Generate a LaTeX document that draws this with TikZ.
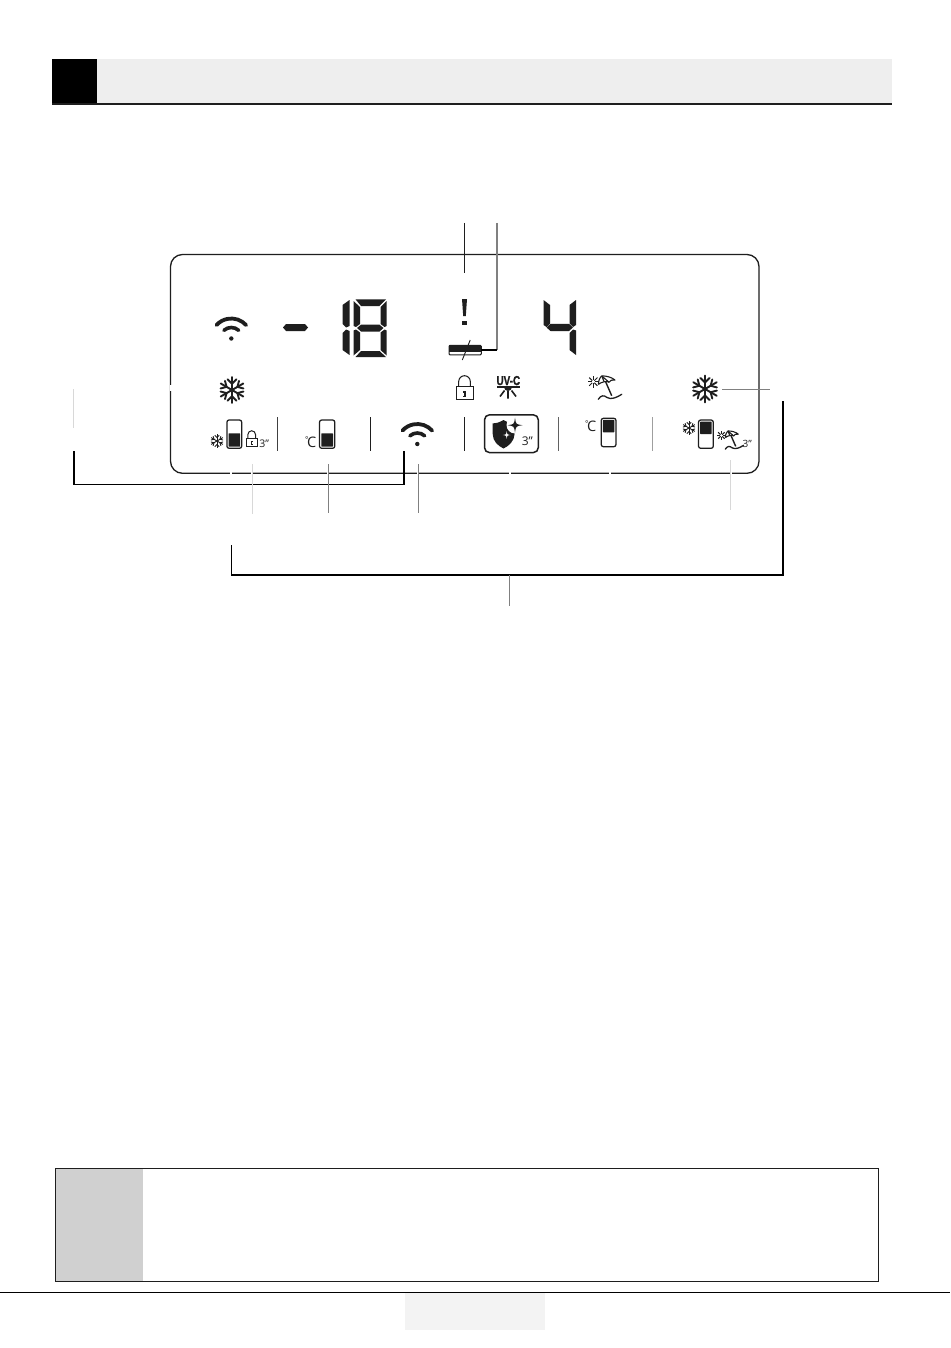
\documentclass[tikz,border=0pt]{standalone}
\usepackage{fontspec}
\setmainfont{Open Sans}
\newfontfamily\uvfont[FakeBold=1.5]{Liberation Sans Bold}
\definecolor{ink}{HTML}{1E1E1E}
\definecolor{headgray}{HTML}{EEEEEE}
\definecolor{notegray}{HTML}{D0D0D0}
\definecolor{pagegray}{HTML}{F3F3F3}
\definecolor{leadmid}{HTML}{808080}
\definecolor{leadlight}{HTML}{D8D8D8}
\tikzset{
  panelline/.style={draw=ink,line width=1.3pt},
  sepline/.style={line width=1pt},
  leadthin/.style={draw=#1,line width=.9pt},
  bracket/.style={draw=black,line width=1.8pt},
  notch/.style={draw=white,line width=2pt},
  segm/.style={fill=ink,draw=none},
  label3/.style={inner sep=0pt,text=ink},
  wifi/.pic={
    \fill[ink] (0,0) circle (2.2pt);
    \draw[ink,line width=3.8pt,line cap=round] (42:20pt) arc[start angle=42,end angle=138,radius=20pt];
    \draw[ink,line width=3.6pt,line cap=round] (48:11pt) arc[start angle=48,end angle=132,radius=11pt];
  },
  flake/.pic={
    \foreach \a in {30,90,150,210,270,330}{
      \begin{scope}[rotate=\a]
        \draw[ink,line width=1.9pt,line cap=round] (0pt,0pt)--(#1 pt,0pt);
        \draw[ink,line width=1.9pt,line cap=round] (#1*.48pt,0pt)--(#1*.82pt,#1*.34pt) (#1*.48pt,0pt)--(#1*.82pt,-#1*.34pt);
      \end{scope}
    }
  },
  tinyflake/.pic={
    \foreach \a in {30,90,150,210,270,330}{
      \begin{scope}[rotate=\a]
        \draw[ink,line width=.9pt] (0pt,0pt)--(#1 pt,0pt);
        \draw[ink,line width=.9pt] (#1*.5pt,0pt)--(#1*.85pt,#1*.32pt) (#1*.5pt,0pt)--(#1*.85pt,-#1*.32pt);
      \end{scope}
    }
  },
  padlock/.pic={
    \draw[ink,line width=1pt] (-8.5,6)rectangle(8.5,-6.8);
    \draw[ink,line width=1pt] (-5.8,-6.8)--(-5.8,-12) arc[start angle=180,end angle=0,radius=5.8pt]--(5.8,-6.8);
    \fill[ink] (-1,-1.8) rectangle (1,3.2);
    \fill[ink] (-1.8,-2.4) rectangle (1.8,-1);
    \fill[ink] (-1.8,2.4) rectangle (1.8,3.4);
  },
  umbrella/.pic={
    \draw[ink,line width=1.1pt,line join=round,fill=white] (-6.7,-2.5) .. controls (-6.5,-8) and (-4,-10.5) .. (-3.3,-11) .. controls (1,-11.5) and (7,-9.5) .. (10,-7) .. controls (7,-7.5) and (5,-6.5) .. (4,-4.8) .. controls (2,-6.5) and (-4,-5) .. (-6.7,-2.5);
    \draw[ink,line width=1.1pt] (-3.3,-11)--(-1,-5.5) (-3.3,-11)--(4,-4.8);
    \draw[ink,line width=1.4pt] (0.5,-5.5)--(6.7,8.7);
    \draw[ink,line width=1.3pt,line cap=round] (-6.7,12.3) .. controls (-4,8) and (-1,8) .. (2,10.5) .. controls (6,13) and (12,10.5) .. (16.7,7.3);
    \foreach \a in {0,45,...,315}{
      \draw[ink,line width=1pt] ([shift={(-11.7,-5.3)}]\a:1.5pt)--([shift={(-11.7,-5.3)}]\a:5.8pt);
    }
  },
  fourstar/.pic={
    \fill[#1] (0,-1) .. controls (.12,-.12) .. (1,0) .. controls (.12,.12) .. (0,1) .. controls (-.12,.12) .. (-1,0) .. controls (-.12,-.12) .. (0,-1) -- cycle;
  }
}
\newcommand{\batt}[8]{%
  \draw[ink,line width=1.25pt,rounded corners=2.2pt] (#1,#2) rectangle (#3,#4);
  \fill[ink,rounded corners=.5pt] (#5,#6) rectangle (#7,#8);
}
\newcommand{\degC}{\raisebox{5pt}{\fontsize{8}{8}\selectfont °}\kern-1.4pt\fontsize{14.5}{14.5}\selectfont C}
\begin{document}
\begin{tikzpicture}[x=1pt,y=-1pt]
\useasboundingbox (0,0) rectangle (950,1348);
\fill[white] (0,0) rectangle (950,1348);

% header
\fill[headgray] (97,59) rectangle (892,103);
\fill[black] (52,59) rectangle (97,103);
\draw[ink,line width=2pt] (52,104) -- (892,104);

% panel
\draw[panelline,rounded corners=12pt] (170.5,254.5) rectangle (759,473.3);
\foreach \x in {231,252,328,418,509.5,610,730.5}{
  \draw[notch] (\x,471.8) -- (\x,474.8);
}
\draw[notch] (170.5,385) -- (170.5,391);

% leader coordinates
\coordinate (t1a) at (464.5,223); \coordinate (t1b) at (464.5,273);
\coordinate (t2a) at (497,223); \coordinate (t2b) at (497,350); \coordinate (t2c) at (481,350);
\coordinate (sa) at (470.2,340); \coordinate (sb) at (462.3,360);
\coordinate (lf1) at (73.2,389); \coordinate (lf2) at (73.2,428);
\coordinate (br1) at (74,451); \coordinate (br2) at (74,484.5); \coordinate (br3) at (404,484.5); \coordinate (br4) at (404,451);
\coordinate (d1a) at (252,464); \coordinate (d1b) at (252,514);
\coordinate (d2a) at (328,464); \coordinate (d2b) at (328,513);
\coordinate (d3a) at (418,464); \coordinate (d3b) at (418,513);
\coordinate (d4a) at (730.5,460); \coordinate (d4b) at (730.5,510);
\coordinate (fl1) at (722,389); \coordinate (fl2) at (770,389);
\coordinate (lb1) at (231.5,545); \coordinate (lb2) at (231.5,575); \coordinate (lb3) at (783,575); \coordinate (lb4) at (783,401);
\coordinate (lb5) at (509.5,575); \coordinate (lb6) at (509.5,606);

% separators
\draw[sepline,ink!85] (277,417) -- (277,451);
\draw[sepline,ink] (370.5,417) -- (370.5,451);
\draw[sepline,ink] (464.5,417) -- (464.5,451);
\draw[sepline,ink!70] (558,417) -- (558,451);
\draw[sepline,gray!75] (652,417) -- (652,451);

% icons row 1
\pic at (231.3,338.5) {wifi};
\pic at (417.3,444) {wifi};
\pic at (232,390) {flake=13};
\pic at (705,389) {flake=13.5};

% dash
\fill[segm] (283,327.5) -- (286,324) -- (305,324) -- (308,327.5) -- (305,331) -- (286,331) -- cycle;

% digit 1
\fill[segm] (349.5,300) -- (349.5,326) -- (346,327.5) -- (342.5,324) -- (342.5,305) -- cycle;
\fill[segm] (349.5,355) -- (349.5,331) -- (346,329.5) -- (342.5,333) -- (342.5,350) -- cycle;
% digit 8
\fill[segm] (355.5,299.3) -- (386,299.3) -- (379.5,306) -- (361,306) -- cycle;
\fill[segm] (353.5,301) -- (360,307) -- (360,324) -- (356,327) -- (353.5,326) -- cycle;
\fill[segm] (386.7,301) -- (380.5,307) -- (380.5,324) -- (384.5,327) -- (386.7,326) -- cycle;
\fill[segm] (357,328) -- (361,324.7) -- (379.5,324.7) -- (383.5,328) -- (379.5,331.5) -- (361,331.5) -- cycle;
\fill[segm] (353.5,330.5) -- (356,329.5) -- (360,332.5) -- (360,350) -- (353.5,355.5) -- cycle;
\fill[segm] (386.7,330.5) -- (384.5,329.5) -- (380.5,332.5) -- (380.5,350) -- (386.7,355.5) -- cycle;
\fill[segm] (355.5,357) -- (386,357) -- (379.5,351) -- (361,351) -- cycle;
% digit 4
\fill[segm] (543.5,300) -- (550,305) -- (550,323.5) -- (546.5,327) -- (543.5,325) -- cycle;
\fill[segm] (576,300) -- (569.5,305) -- (569.5,323.5) -- (573,327) -- (576,325) -- cycle;
\fill[segm] (546.5,327.5) -- (550.5,323.8) -- (569,323.8) -- (573,327.5) -- (569,331) -- (550.5,331) -- cycle;
\fill[segm] (576,355) -- (569.5,350) -- (569.5,333) -- (573,329.5) -- (576,330.5) -- cycle;

% exclamation
\fill[ink] (462,299) -- (467,299) -- (465.8,316) -- (463.2,316) -- cycle;
\fill[ink] (462.4,320.8) rectangle (466.6,325.2);

% bar
\fill[white] (448.5,345) rectangle (481.7,355);
\draw[ink,line width=1pt,rounded corners=1pt] (449,345.3) rectangle (481.3,354.8);
\fill[ink] (449,345.3) rectangle (481.3,351.8);

% padlocks
\pic at (464.5,393.5) {padlock};
\pic[scale=.66] at (251.7,442.5) {padlock};

% UV-C icon
\node[inner sep=0pt,xscale=.76,transform shape,text=ink] (uvc) at (508.3,380.6) {\uvfont\fontsize{13}{13}\selectfont UV-C};
\draw[ink,line width=1.8pt] (497,386.6) -- (520,386.6);
\fill[ink] (504,387) -- (512,387) arc[start angle=0,end angle=-180,radius=4pt] -- cycle;
\draw[ink,line width=1.6pt] (508,391) -- (508,398.5) (504.5,390.5) -- (500,396.5) (511.5,390.5) -- (516,396.5);

% umbrellas
\pic at (605,387) {umbrella};
\pic[scale=.78] at (730.5,439.6) {umbrella};

% small flakes
\pic at (217,441) {tinyflake=6.8};
\pic at (689,428) {tinyflake=6.8};

% batteries
\batt{226.9}{420}{241.7}{448.3}{228.5}{433.3}{240.1}{446.7}
\batt{319.5}{420}{334.8}{448.3}{321.3}{433.3}{333}{446.7}
\batt{601.2}{418.3}{616}{446.7}{602.9}{419.9}{614.3}{432.3}
\batt{698.5}{420}{713.3}{448.3}{700.1}{421.7}{711.7}{434}

% degree C
\node[label3] (degc1) at (310.6,442) {\degC};
\node[label3] (degc2) at (590.6,426.3) {\degC};

% 3" labels
\node[label3] (three1) at (264.3,443.4) {\fontsize{10.5}{10.5}\selectfont 3"};
\node[label3] (three2) at (527.3,441) {\fontsize{12}{12}\selectfont 3"};
\node[label3] (three3) at (747.2,444) {\fontsize{10}{10}\selectfont 3"};

% shield button
\draw[ink,line width=1.5pt,rounded corners=5pt] (484.5,414.8) rectangle (538.3,452.6);
\fill[ink] (503.5,420) .. controls (499,422.5) and (496,423.5) .. (492.7,423.5) -- (492.7,434) .. controls (492.7,441) and (498,446) .. (503.5,448.5) .. controls (509,446) and (514.3,441) .. (514.6,434) -- (514.6,423.5) .. controls (511,423.5) and (508,422.5) .. (503.5,420) -- cycle;
\fill[white] (515,425) circle (8.5pt);
\pic[scale=7.5] at (515,425.2) {fourstar=ink};
\pic[scale=3.8] at (506.7,435) {fourstar=white};

% leaders
\draw[leadthin=ink] (t1a) -- (t1b);
\draw[line width=1.4pt,draw=leadmid] (t2a) -- (t2b);
\draw[line width=1.4pt,draw=black] (t2b) -- (t2c);
\draw[line width=.9pt,draw=ink] (sa) -- (sb);
\draw[leadthin=leadlight] (lf1) -- (lf2);
\draw[bracket] (br1) -- (br2) -- (br3) -- (br4);
\draw[leadthin=leadlight] (d1a) -- (d1b);
\draw[leadthin=leadmid] (d2a) -- (d2b);
\draw[leadthin=leadmid] (d3a) -- (d3b);
\draw[leadthin=leadlight] (d4a) -- (d4b);
\draw[leadthin=leadmid] (fl1) -- (fl2);
\draw[bracket] (lb1) -- (lb2) -- (lb3) -- (lb4);
\draw[leadthin=leadmid] (lb5) -- (lb6);

% note box
\fill[notegray] (55.5,1168.5) rectangle (142.5,1281);
\draw[ink,line width=1pt] (55.5,1168.5) rectangle (878.7,1281);
% footer
\draw[black,line width=1.4pt] (0,1292.3) -- (950,1292.3);
\fill[pagegray] (405,1293) rectangle (545,1330);
\end{tikzpicture}
\end{document}
